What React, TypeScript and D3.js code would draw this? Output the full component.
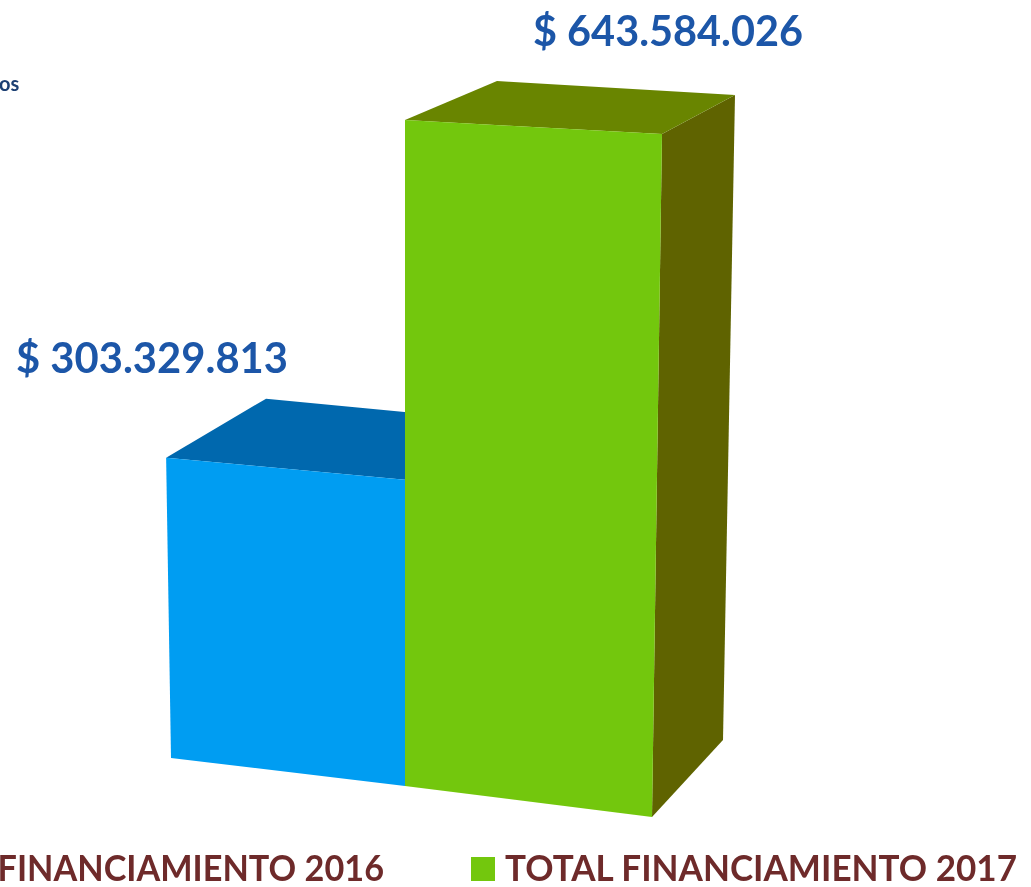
import React from "react";
import * as d3 from "d3";

const categories = ["TOTAL FINANCIAMIENTO 2016", "TOTAL FINANCIAMIENTO 2017"];
const values = [303329813, 643584026];
const valueLabels = ["$ 303.329.813", "$ 643.584.026"];
const frontColors = ["#009df2", "#73c709"];
const topColors = ["#0068ae", "#698500"];
const sideColors = ["#0068ae", "#5f6400"];
const clippedNote = "os";

const W = 1031, H = 887;
const maxValue = 643584026;

// Oblique projection of the 3D column chart.
// u = position along the category axis (bar i spans u = i .. i + 1)
const floorX = d3.scaleLinear().domain([0, 1, 2]).range([171, 405, 652]);
const floorY = d3.scaleLinear().domain([0, 1, 2]).range([758, 786, 817]);
// share of the full height reached by a value (slightly non-linear: perspective)
const heightShare = d3.scalePow().exponent(1.033).domain([0, maxValue]).range([0, 1]);
// pixels of rise for the full value, varying with u
const riseAtMax = d3.scaleLinear().domain([0, 1, 2]).range([653, 666, 683]);
const leanAtMax = d3.scaleLinear().domain([0, 1, 2]).range([-10.6, 0, 10]);
// depth offset of the back face
const depthX = d3.scaleLinear().domain([0, 1, 2]).range([99, 90, 71]);
const depthXLean = d3.scaleLinear().domain([0, maxValue]).range([0, 2]);
const depthY = d3.scaleLinear().domain([0, maxValue]).range([-77, -39]);

type Pt = [number, number];
const project = (u: number, v: number, back = false): Pt => {
  const t = heightShare(v);
  const x = floorX(u) + leanAtMax(u) * t + (back ? depthX(u) + depthXLean(v) : 0);
  const y = floorY(u) - riseAtMax(u) * t + (back ? depthY(v) : 0);
  return [x, y];
};
const poly = (p: Pt[]) => (d3.line()(p) as string) + "Z";

const textFont = "Lato, Carlito, sans-serif";

export default function App() {
  return (
    <svg width={W} height={H} style={{ position: "absolute", left: 0, top: 0 }}>
      <defs>
        <filter id="soft" x="-5%" y="-5%" width="110%" height="110%">
          <feGaussianBlur stdDeviation="0.7" />
        </filter>
      </defs>
      <rect width={W} height={H} fill="#ffffff" />
      <g filter="url(#soft)">
        <text x={-1} y={91} fontFamily={textFont} fontWeight={700} fontSize={20} fill="#1f3f73">{clippedNote}</text>
        {values.map((v, i) => {
          const [u0, u1] = [i, i + 1];
          return (
            <g key={categories[i]}>
              <path d={poly([project(u1, v), project(u1, v, true), project(u1, 0, true), project(u1, 0)])} fill={sideColors[i]} />
              <path d={poly([project(u0, v), project(u0, v, true), project(u1, v, true), project(u1, v)])} fill={topColors[i]} />
              <path d={poly([project(u0, v), project(u1, v), project(u1, 0), project(u0, 0)])} fill={frontColors[i]} />
            </g>
          );
        })}
        {valueLabels.map((label, i) => (
          <text key={label} x={i === 0 ? 152 : 668} y={i === 0 ? 373 : 46} textAnchor="middle" fontFamily={textFont} fontWeight={700} fontSize={42} fill="#1c56a8" textLength={i === 0 ? 272 : 270} lengthAdjust="spacingAndGlyphs">{label}</text>
        ))}
        <text x={384} y={881} textAnchor="end" fontFamily={textFont} fontWeight={700} fontSize={36} fill="#6e2c2c" textLength={500} lengthAdjust="spacingAndGlyphs">{categories[0]}</text>
        <rect x={471} y={857} width={24} height={24} fill={frontColors[1]} />
        <text x={505} y={881} fontFamily={textFont} fontWeight={700} fontSize={36} fill="#6e2c2c" textLength={512} lengthAdjust="spacingAndGlyphs">{categories[1]}</text>
      </g>
    </svg>
  );
}
